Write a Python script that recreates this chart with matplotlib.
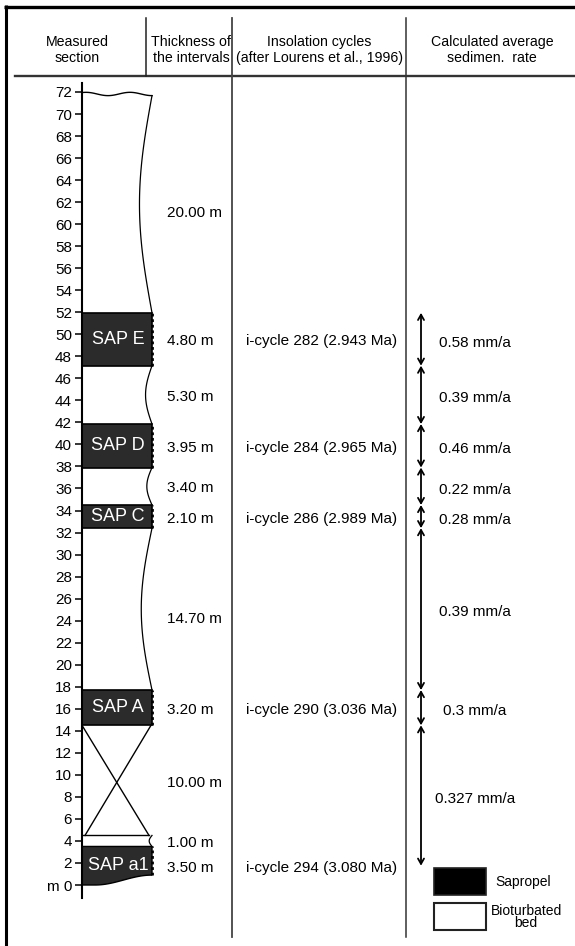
import numpy as np
import matplotlib.pyplot as plt
from matplotlib.patches import Rectangle, Polygon

plt.rcParams['font.family'] = ['Liberation Sans', 'DejaVu Sans']

# beds from the base of the section upward
thickness = [3.50, 1.00, 10.00, 3.20, 14.70, 2.10, 3.40, 3.95, 5.30, 4.80, 20.00]
facies = ['sap', 'bio', 'gap', 'sap', 'bio', 'sap', 'bio', 'sap', 'bio', 'sap', 'bio']
sap_names = ['SAP a1', '', '', 'SAP A', '', 'SAP C', '', 'SAP D', '', 'SAP E', '']
cycles = ['i-cycle 294 (3.080 Ma)', '', '', 'i-cycle 290 (3.036 Ma)', '',
          'i-cycle 286 (2.989 Ma)', '', 'i-cycle 284 (2.965 Ma)', '',
          'i-cycle 282 (2.943 Ma)', '']

# sedimentation rate intervals, top to bottom (m)
rate_levels = [51.95, 47.15, 41.85, 37.90, 34.50, 32.40, 17.70, 14.50, 1.75]
rates = ['0.58', '0.39', '0.46', '0.22', '0.28', '0.39', '0.3', '0.327']

depth_ticks = list(range(0, 73, 2))

W, H = 575, 946
Y0, PXM = 885, 11.014      # pixel row of 0 m, pixels per metre
COL_L, COL_R = 82, 152
RATE_X = 421

fig = plt.figure(figsize=(W / 100, H / 100), dpi=100)
frame = fig.add_axes([0, 0, 1, 1], label='frame')
frame.set_xlim(0, W)
frame.set_ylim(H, 0)
frame.axis('off')

ax = fig.add_axes([0, 0, 1, 1], label='section')
ax.set_xlim(0, W)
ax.set_ylim((Y0 - H) / PXM, Y0 / PXM)
ax.patch.set_visible(False)
for s in ['top', 'right', 'bottom']:
    ax.spines[s].set_visible(False)
ax.spines['left'].set_position(('data', COL_L))
ax.spines['left'].set_bounds(-1.2, 72.8)
ax.spines['left'].set_linewidth(1.5)
ax.spines['left'].set_zorder(6)
ax.set_xticks([])
ax.set_yticks(depth_ticks)
ax.set_yticklabels(['m 0' if t == 0 else str(t) for t in depth_ticks])
ax.tick_params(axis='y', direction='out', length=5, width=1.1, pad=2.2, labelsize=11)

# frame and column rules
frame.plot([4, 575], [7, 7], color='black', lw=2.4, solid_capstyle='butt')
frame.plot([6, 6], [5, 946], color='black', lw=2.2, solid_capstyle='butt')
frame.plot([15, 575], [76, 76], color='#333333', lw=1.7)
frame.plot([146, 146], [18, 76], color='#222222', lw=1.1)
frame.plot([232, 232], [18, 937], color='#444444', lw=1.3)
frame.plot([406, 406], [18, 937], color='#333333', lw=1.1)

hdr = dict(ha='center', va='center', fontsize=10.2, linespacing=1.25)
frame.text(77, 50, 'Measured\nsection', **hdr)
frame.text(191, 50, 'Thickness of\nthe intervals', **hdr)
frame.text(319, 50, 'Insolation cycles\n(after Lourens et al., 1996)', **hdr)
frame.text(492, 50, 'Calculated average\nsedimen.  rate', **hdr)

bounds = np.concatenate([[0.0], np.cumsum(thickness)])
n = len(thickness)
for i, (kind, b, t) in enumerate(zip(facies, bounds[:-1], bounds[1:])):
    h = t - b
    if kind == 'sap':
        if i == 0:
            # eroded base of the lowest sapropel
            xs = np.linspace(COL_R, COL_L, 40)
            ys = np.where(xs > 95, 0.45 * (1 - np.cos(np.pi * (xs - 95) / 57)), 0.0)
            pts = [(COL_L, t), (COL_R, t)] + list(zip(xs, ys))
            ax.add_patch(Polygon(pts, closed=True, fc='#2b2b2b', ec='black', lw=1.0, zorder=2))
            ax.plot([COL_R, COL_R], [ys[0], t], color='black', lw=2.0, ls=(0, (1, 1)), zorder=3)
        else:
            ax.add_patch(Rectangle((COL_L, b), COL_R - COL_L, h, fc='#2b2b2b', ec='black',
                                   lw=1.2, zorder=2))
            ax.plot([COL_R, COL_R], [b, t], color='black', lw=2.0, ls=(0, (1, 1)), zorder=3)
        ax.text((COL_L + COL_R) / 2 + 1, (b + t) / 2, sap_names[i], color='white', fontsize=13,
                ha='center', va='center', zorder=4)
        ax.text(246, (b + t) / 2 - 0.2, cycles[i], ha='left', va='center', fontsize=11)
    elif kind == 'bio':
        top = t
        if i == n - 1:
            # weathered top of the section
            xw = np.linspace(COL_L, COL_R, 60)
            yw = t - 0.13 + 0.15 * np.cos(2 * np.pi * (xw - 130) / 44)
            ax.plot(xw, yw, color='black', lw=1.0)
            top = yw[-1]
        yy = np.linspace(b, top, 80)
        xx = COL_R - 2.8 * np.sqrt(h) * np.sin(np.pi * (yy - b) / (top - b))
        ax.plot(xx, yy, color='black', lw=0.9)
    else:
        # covered interval
        ax.plot([COL_L, COL_R - 3], [t, b], color='black', lw=1.0)
        ax.plot([COL_R - 1, COL_L + 3], [t, b], color='black', lw=1.0)
        ax.plot([COL_L, COL_R - 3], [b, b], color='black', lw=1.0)

    shift = 0.9 if h > 12 else 0.2
    ax.text(167, (b + t) / 2 - shift, f'{h:.2f} m', ha='left', va='center', fontsize=11)

# sedimentation rates
for top, bot, r in zip(rate_levels[:-1], rate_levels[1:], rates):
    ax.annotate('', xy=(RATE_X, top), xytext=(RATE_X, bot),
                arrowprops=dict(arrowstyle='<->,head_length=0.32,head_width=0.18',
                                lw=1.3, color='black', shrinkA=0, shrinkB=0,
                                mutation_scale=12))
    ax.text(475, (top + bot) / 2 - 0.3, f'{r} mm/a', ha='center', va='center', fontsize=11)

# key
frame.add_patch(Rectangle((434, 868), 52, 27, fc='black', ec='#222222', lw=1.2))
frame.add_patch(Rectangle((434, 903), 52, 27, fc='white', ec='#222222', lw=1.5))
frame.text(523, 882, 'Sapropel', ha='center', va='center', fontsize=10)
frame.text(526, 917, 'Bioturbated\nbed', ha='center', va='center', fontsize=10, linespacing=0.75)

fig.savefig('out.png', dpi=100)
